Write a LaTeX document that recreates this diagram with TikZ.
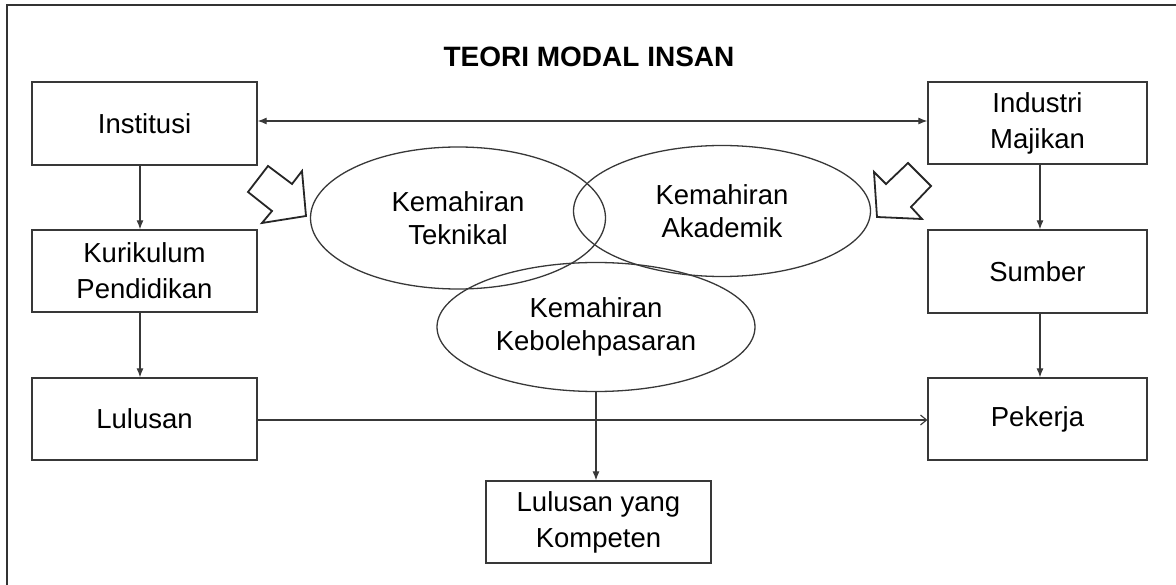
\documentclass[tikz,border=0pt]{standalone}
\usepackage{fontspec}
\setmainfont{Liberation Sans}
\usetikzlibrary{shapes.geometric,arrows.meta,calc}
\begin{document}
\begin{tikzpicture}[x=1pt,y=-1pt,
  ink/.style={draw=black!78,line width=1.3pt},
  box/.style={ink,rectangle,inner sep=0pt,align=center,
    font=\fontsize{27.5}{36}\selectfont},
  oval/.style={ink,ellipse,inner sep=0pt,align=center,
    font=\fontsize{27.5}{33}\selectfont},
  link/.style={draw=black!78,line width=1.1pt,-{Latex[length=9pt,width=7pt]}},
  openlink/.style={draw=black!78,line width=1.1pt,-{Straight Barb[length=6pt,width=10pt]}},
  blockarrow/.style={draw=black!85,line width=1.8pt,line join=miter,fill=white}]
\useasboundingbox (0,0) rectangle (1176,585);

% outer frame
\coordinate (fa) at (7,585);
\coordinate (fb) at (7,5);
\coordinate (fc) at (1176,5);
\draw[draw=black!80,line width=2pt] (fa) -- (fb) -- (fc);

% title
\node[font=\bfseries\fontsize{28}{32}\selectfont] (title) at (589,57) {TEORI MODAL INSAN};

% left column
\node[box,minimum width=225pt,minimum height=83pt] (inst) at (144.5,123.5) {Institusi};
\node[box,minimum width=225pt,minimum height=82pt] (kur)  at (144.5,271) {Kurikulum\\Pendidikan};
\node[box,minimum width=225pt,minimum height=82pt] (lul)  at (144.5,419) {Lulusan};

% right column
\node[box,minimum width=219pt,minimum height=82pt] (ind) at (1037.5,123) {Industri\\Majikan};
\node[box,minimum width=219pt,minimum height=83pt] (sum) at (1037.5,271.5) {Sumber};
\node[box,minimum width=219pt,minimum height=82pt] (pek) at (1037.5,419) {Pekerja};

% bottom result
\node[box,minimum width=225pt,minimum height=82pt] (komp) at (598.5,522) {Lulusan yang\\Kompeten};

% skill ellipses
\node[oval,minimum width=295pt,minimum height=142pt] (tek) at (458,218) {Kemahiran\\Teknikal};
\node[oval,minimum width=297pt,minimum height=131pt] (aka) at (722,211) {Kemahiran\\Akademik};
\node[oval,minimum width=318pt,minimum height=129pt] (keb) at (596,327) {Kemahiran\\Kebolehpasaran};

% hollow block arrows pointing at the ellipses
\draw[blockarrow] (268,166) -- (292,184) -- (302,171) -- (306,216) -- (262,223) -- (272,211) -- (248,192) -- cycle;
\draw[blockarrow] (908,163) -- (931,186) -- (911,207) -- (922,219) -- (877,217) -- (874,172) -- (886,184) -- cycle;

% connectors
\draw[draw=black!78,line width=1.1pt,{Latex[length=9pt,width=7pt]}-{Latex[length=9pt,width=7pt]}]
  ([yshift=2.5pt]inst.east) -- ([yshift=2pt]ind.west);
\draw[link] ([xshift=-4.5pt]inst.south) -- ([xshift=-4.5pt]kur.north);
\draw[link] ([xshift=-4.5pt]kur.south) -- ([xshift=-4.5pt]lul.north);
\draw[link] ([xshift=2.5pt]ind.south) -- ([xshift=2.5pt]sum.north);
\draw[link] ([xshift=2.5pt]sum.south) -- ([xshift=2.5pt]pek.north);
\draw[openlink] ([yshift=-1pt]lul.east) -- ([yshift=-1pt]pek.west);
\draw[link] (keb.south) -- (keb.south |- komp.north);
\end{tikzpicture}
\end{document}
